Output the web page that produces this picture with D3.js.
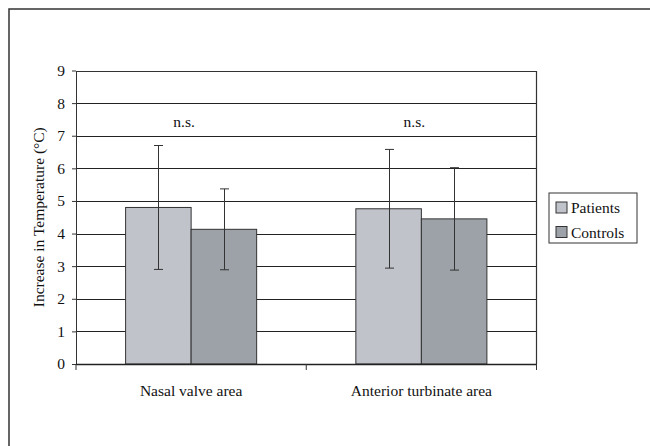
<html>
  <head>
    <script src="https://d3js.org/d3.v7.min.js"></script>
    <style>
      svg text { font-family: "Liberation Serif", "DejaVu Serif", serif; }
    </style>
  </head>
  <body style="margin:0">
<div id="my_dataviz"></div>
   <script>
// data
var categories = ["Nasal valve area", "Anterior turbinate area"];
var series = ["Patients", "Controls"];
var patientMeans = [4.80, 4.76];
var patientSD = [1.90, 1.82];
var controlMeans = [4.13, 4.45];
var controlSD = [1.24, 1.57];
var sigLabels = ["n.s.", "n.s."];
var yTicks = [0, 1, 2, 3, 4, 5, 6, 7, 8, 9];

var colors = {"Patients": "#c1c3cb", "Controls": "#9da2a8"};
var fs = "15.5px";
var txt = "#111";

var W = 650, H = 446;
var svg = d3.select("#my_dataviz")
  .append("svg")
    .attr("width", W)
    .attr("height", H)
    .style("background", "#fff");

// outer frame
svg.append("rect")
  .attr("x", 9).attr("y", 9)
  .attr("width", W + 10).attr("height", H + 10)
  .attr("fill", "none").attr("stroke", "#333").attr("stroke-width", 1.5);

var pLeft = 76, pRight = 536.5, pTop = 70.5, pBottom = 364;

var x = d3.scaleBand()
  .domain(categories)
  .range([pLeft, pRight]);
var xs = d3.scaleBand()
  .domain(series)
  .range([0, x.bandwidth()])
  .paddingOuter(0.757);
var y = d3.scaleLinear()
  .domain([0, 9])
  .range([pBottom, pTop]);

// gridlines
svg.append("g")
  .selectAll("line")
  .data(yTicks.filter(function(d) { return d > 0 && d < 9; }))
  .enter().append("line")
    .attr("x1", pLeft).attr("x2", pRight)
    .attr("y1", function(d) { return Math.round(y(d)) + 0.5; })
    .attr("y2", function(d) { return Math.round(y(d)) + 0.5; })
    .attr("stroke", "#222").attr("stroke-width", 1);

// plot border (top & right)
svg.append("path")
  .attr("d", "M" + pLeft + "," + (Math.round(pTop) + 0.5) + "H" + pRight + "V" + pBottom)
  .attr("fill", "none").attr("stroke", "#333").attr("stroke-width", 1.2);

var rows = [];
categories.forEach(function(c, i) {
  rows.push({cat: c, s: "Patients", m: patientMeans[i], sd: patientSD[i]});
  rows.push({cat: c, s: "Controls", m: controlMeans[i], sd: controlSD[i]});
});

// bars
svg.append("g")
  .selectAll("rect")
  .data(rows)
  .enter().append("rect")
    .attr("x", function(d) { return x(d.cat) + xs(d.s); })
    .attr("y", function(d) { return y(d.m); })
    .attr("width", xs.bandwidth())
    .attr("height", function(d) { return y(0) - y(d.m); })
    .attr("fill", function(d) { return colors[d.s]; })
    .attr("stroke", "#333").attr("stroke-width", 1);

// error bars
var eb = svg.append("g").attr("stroke", "#333").attr("stroke-width", 1);
rows.forEach(function(d) {
  var cx = Math.round(x(d.cat) + xs(d.s) + xs.bandwidth() / 2) + 0.5;
  eb.append("line").attr("x1", cx).attr("x2", cx)
    .attr("y1", y(d.m + d.sd)).attr("y2", y(d.m - d.sd));
  eb.append("line").attr("x1", cx - 4.5).attr("x2", cx + 4.5)
    .attr("y1", y(d.m + d.sd)).attr("y2", y(d.m + d.sd));
  eb.append("line").attr("x1", cx - 4.5).attr("x2", cx + 4.5)
    .attr("y1", y(d.m - d.sd)).attr("y2", y(d.m - d.sd));
});

// significance labels
svg.append("g")
  .selectAll("text")
  .data(categories)
  .enter().append("text")
    .attr("x", function(d) { return x(d) + x.bandwidth() / 2 - 7; })
    .attr("y", y(7) - 9)
    .attr("text-anchor", "middle")
    .style("font-size", fs).style("fill", txt)
    .text(function(d, i) { return sigLabels[i]; });

// Y axis
var yAxis = svg.append("g")
  .attr("transform", "translate(" + pLeft + ",0)")
  .call(d3.axisLeft(y).tickValues(yTicks).tickSize(4).tickSizeOuter(0).tickPadding(7));
yAxis.attr("font-family", null);
yAxis.select(".domain").attr("stroke", "#333");
yAxis.selectAll(".tick line").attr("stroke", "#333");
yAxis.selectAll("text").style("font-size", fs).style("fill", txt);

// X axis with ticks at category boundaries
var xAxis = svg.append("g")
  .attr("transform", "translate(0," + pBottom + ")");
xAxis.append("line")
  .attr("x1", pLeft).attr("x2", pRight)
  .attr("y1", 0.5).attr("y2", 0.5)
  .attr("stroke", "#222").attr("stroke-width", 1.3);
xAxis.selectAll(".bt")
  .data(categories.concat(["end"]))
  .enter().append("line")
    .attr("x1", function(d) { return d === "end" ? pRight : x(d); })
    .attr("x2", function(d) { return d === "end" ? pRight : x(d); })
    .attr("y1", 0).attr("y2", 6)
    .attr("stroke", "#333");
xAxis.selectAll(".lbl")
  .data(categories)
  .enter().append("text")
    .attr("x", function(d) { return x(d) + x.bandwidth() / 2; })
    .attr("y", 32)
    .attr("text-anchor", "middle")
    .style("font-size", fs).style("fill", txt)
    .text(function(d) { return d; });

// Y label
svg.append("text")
  .attr("transform", "translate(44," + ((pTop + pBottom) / 2) + ") rotate(-90)")
  .attr("text-anchor", "middle")
  .style("font-size", fs).style("fill", txt)
  .text("Increase in Temperature (\u00B0C)");

// legend
var lg = svg.append("g").attr("transform", "translate(549,193)");
lg.append("rect").attr("x", 0).attr("y", 0).attr("width", 88).attr("height", 50)
  .attr("fill", "#fff").attr("stroke", "#333");
series.forEach(function(s, i) {
  lg.append("rect").attr("x", 7).attr("y", 9 + i * 24.5).attr("width", 11).attr("height", 11)
    .attr("fill", colors[s]).attr("stroke", "#333");
  lg.append("text").attr("x", 22).attr("y", 20 + i * 24.5)
    .style("font-size", fs).style("fill", txt)
    .text(s);
});
</script>
  </body>
</html>
